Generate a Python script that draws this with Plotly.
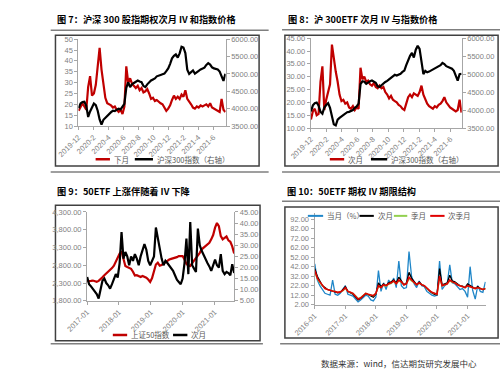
import pandas as pd
import plotly.graph_objects as go

W, H = 500, 381

# ---------------- Data ----------------
# Panel 1: 沪深300股指期权次月IV (left) & 沪深300指数 (right)
P1_START, P1_END = "2019-12-02", "2021-07-20"
P1_IV = [17, 19, 20.5, 19, 17.5, 28, 33, 24, 25, 29,
         38, 46, 36, 30, 23, 20.5, 20, 19.5, 18.5, 19,
         17.5, 16.5, 17.5, 15.5, 19, 37.5, 30, 32, 29.5, 28.5,
         27.5, 28.5, 26.5, 27.5, 25.5, 26, 27, 25, 22.5, 23,
         21.5, 22, 21, 20.5, 20, 18.5, 17, 18, 19.5, 22,
         24, 22.5, 23.5, 22.5, 24.5, 23.5, 26.5, 22.5, 21.5, 20,
         18.5, 18, 19, 18.5, 19.5, 19, 19.5, 20, 19, 20.5,
         18.5, 18, 17.5, 17, 16.5, 22.5, 17.5, 16.5]
P1_IDX = [4015, 4150, 4190, 4200, 4080, 3760, 3920, 4050, 4150, 4100,
          3940, 3690, 3540, 3680, 3740, 3790, 3860, 3900, 3940, 3930,
          3970, 4000, 3980, 4060, 4140, 4600, 4760, 4620, 4700, 4740,
          4770, 4810, 4780, 4760, 4650, 4620, 4700, 4770, 4810, 4840,
          4870, 4930, 4960, 4970, 4990, 5010, 5080, 5160, 5290, 5450,
          5520, 5560, 5470, 5590, 5780, 5760, 5600, 5120, 5000, 5060,
          5100, 5010, 5060, 5090, 5130, 5150, 5180, 5260, 5310, 5270,
          5190, 5160, 5150, 5130, 5070, 4900, 4800, 5000]
P12_TICKS = ["2019-12", "2020-2", "2020-4", "2020-6", "2020-8", "2020-10",
             "2020-12", "2021-2", "2021-4", "2021-6"]

# Panel 2: 沪300ETF次月IV (left) & 沪深300指数 (right)
P2_START, P2_END = "2019-12-02", "2021-07-15"
P2_IV = [13.3, 16.5, 17.5, 15, 15.5, 28, 34, 17, 21, 24,
         27, 42.5, 36, 32, 28, 23, 20.5, 21, 19.5, 20,
         18, 17.5, 18.5, 17, 18, 17.5, 33.5, 29, 30, 28,
         28.5, 27, 26.5, 27.5, 26, 25.5, 26.5, 25.5, 26, 24,
         23, 21.5, 22.5, 21, 20.5, 20, 19, 18.5, 17.5, 17,
         19.5, 22, 23, 22, 23.5, 23, 22.5, 24, 26.5, 23,
         21, 19.5, 18.5, 18, 17.5, 18.5, 18, 19, 19.5, 20.5,
         22, 20, 19, 18, 17.5, 17, 16.5, 17, 21, 16]
P2_IDX = [3960, 4130, 4190, 4210, 4120, 3950, 3900, 4070, 4140, 4190,
          4060, 3780, 3600, 3570, 3730, 3780, 3820, 3860, 3900, 3940,
          3950, 3980, 4000, 4060, 4100, 4180, 4720, 4800, 4790, 4730,
          4770, 4800, 4820, 4790, 4760, 4660, 4640, 4690, 4740, 4780,
          4810, 4850, 4910, 4950, 4980, 4960, 4980, 5010, 5060, 5100,
          5250, 5410, 5510, 5590, 5460, 5680, 5790, 5700, 5350, 5000,
          5090, 5050, 5070, 5100, 5120, 5150, 5180, 5220, 5250, 5310,
          5280, 5220, 5190, 5170, 5150, 5090, 4950, 4820, 5000, 5010]

# Panel 3: 上证50指数 (left) & 50ETF次月IV (right)
P3_START, P3_END = "2017-01-03", "2021-08-12"
P3_SZ50 = [2350, 2345, 2360, 2370, 2350, 2335, 2360, 2400, 2460, 2520,
           2570, 2610, 2650, 2720, 2790, 2900, 3000, 3130, 3190, 2960,
           2780, 2750, 2730, 2700, 2620, 2510, 2520, 2490, 2470, 2500,
           2480, 2450, 2400, 2330, 2440, 2620, 2820, 2870, 2790, 2810,
           2850, 2900, 2940, 2960, 2980, 2990, 3000, 3030, 3060, 3070,
           3060, 2960, 2840, 2790, 2780, 2860, 2930, 3010, 3080, 3150,
           3250, 3300, 3330, 3380, 3430, 3530, 3650, 3860, 3990, 3900,
           3620, 3530, 3560, 3610, 3500, 3460, 3330, 3130]
P3_IV = [15.7, 12.5, 11.5, 10.5, 9.5, 8, 6, 9.5, 14, 15,
         13, 12, 10.5, 12.5, 15, 17, 15.5, 22, 36, 24,
         27, 25, 21, 25, 23, 26, 24, 21, 25, 27.5,
         30.5, 28, 23, 21, 23, 25, 38, 33, 28, 24,
         21, 23, 22, 21, 19.5, 18.5, 16.5, 14.5, 13.5, 12.5,
         15, 22, 33, 17, 40.5, 21, 19.5, 18, 37.5, 30,
         27.5, 25.5, 23.5, 22, 20.5, 18.5, 21, 23.5, 21, 20,
         26, 18.5, 17, 18, 17.5, 16.5, 21.5, 17.5]
P3_TICKS = ["2017-01", "2018-01", "2019-01", "2020-01", "2021-01"]

# Panel 4: 50ETF期权IV期限结构 (monthly, 2016-01 .. 2021-08)
P4_START, P4_END = "2016-01-04", "2021-08-02"
P4_M0 = [45, 28, 22, 18, 14, 13, 12, 28, 13, 12, 14, 18,
         22, 13, 12, 11, 8, 5, 7, 10, 12, 11, 7, 6,
         10, 38, 16, 25, 18, 28, 24, 30, 20, 48, 22, 19,
         20, 58, 32, 24, 20, 27, 22, 21, 16, 14, 12, 11,
         12, 48, 18, 22, 24, 44, 25, 24, 21, 18, 19, 16,
         10, 42, 17, 8, 22, 16, 15, 26]
P4_M1 = [40, 32, 27, 22, 20, 18, 17, 16, 15.5, 14.5, 15, 17.5,
         21, 16, 14.5, 13, 10, 7, 8.5, 11.5, 13.5, 12.5, 11, 10,
         13, 25, 21, 24, 22, 25, 26, 28, 25, 31, 27, 23,
         25, 36, 30, 26, 23, 26, 23, 22, 19, 16.5, 14.5, 13,
         12.5, 40, 23, 24, 25, 33, 27, 26, 24, 22, 21.5, 20,
         24, 22, 20.5, 19, 21, 19, 18, 19]
P4_Q1 = [36, 29, 25, 21.5, 19, 18, 17, 16.5, 16, 15, 15.5, 16.5,
         19, 16, 15, 14, 11.5, 8.5, 9.5, 12, 14, 13, 12, 11.5,
         14, 21, 20, 22.5, 21.5, 23.5, 24.5, 26.5, 24, 27, 25.5, 23,
         24, 29, 27, 24.5, 23, 24.5, 23, 22, 19, 17, 15, 14,
         13, 30, 22, 22.5, 24, 27, 25.5, 25, 23, 22, 21, 20,
         21.5, 21, 20, 19, 20, 19, 18.5, 19]
P4_Q2 = [38, 30, 26, 22, 19, 18, 17, 16.5, 16, 15, 15.5, 17,
         20, 16, 15, 14, 11, 8, 9, 12, 14, 13, 12, 11.5,
         14, 22, 20, 23, 22, 24, 25, 27, 24, 28, 26, 23,
         24, 31, 28, 25, 23, 25, 23, 22, 19, 17, 15, 14,
         13, 32, 22, 23, 24, 28, 26, 25, 23, 22, 21, 20,
         22, 21, 20, 19, 20, 19, 18, 19]
P4_TICKS = ["2016-01", "2017-01", "2018-01", "2019-01", "2020-01", "2021-01"]

TITLES = ["图 7：沪深 300 股指期权次月 IV 和指数价格",
          "图 8：沪 300ETF 次月 IV 与指数价格",
          "图 9：50ETF 上涨伴随着 IV 下降",
          "图 10：50ETF 期权 IV 期限结构"]
SOURCE = "数据来源：wind，信达期货研究发展中心"

# ---------------- Helpers ----------------
def px_x(p):
    return p / W

def px_y(p):
    return 1 - p / H

def dates(start, end, n):
    return pd.date_range(start, end, periods=n)

def tick_dates(labels):
    out = []
    for s in labels:
        y, m = s.split("-")
        out.append(f"{y}-{int(m):02d}-01")
    return out

RED = "#C00000"
BLACK = "#000000"
NUMFONT = dict(family="Liberation Sans, Arial, sans-serif", size=7.5, color="#7F7F7F")
CJK = "Noto Sans CJK SC"

def base_axis(**kw):
    d = dict(showline=True, linecolor="#A6A6A6", linewidth=1, ticks="outside",
             ticklen=3, tickcolor="#A6A6A6", showgrid=False, zeroline=False,
             tickfont=NUMFONT, fixedrange=True)
    d.update(kw)
    return d

fig = go.Figure()

# Panel 1
d1a = dates(P1_START, P1_END, len(P1_IV))
d1b = dates(P1_START, P1_END, len(P1_IDX))
fig.add_trace(go.Scatter(x=d1a, y=P1_IV, name="下月", mode="lines",
                         line=dict(color=RED, width=2.2), xaxis="x", yaxis="y"))
fig.add_trace(go.Scatter(x=d1b, y=P1_IDX, name="沪深300指数（右轴）", mode="lines",
                         line=dict(color=BLACK, width=2.2), xaxis="x", yaxis="y2"))
# Panel 2
d2a = dates(P2_START, P2_END, len(P2_IV))
d2b = dates(P2_START, P2_END, len(P2_IDX))
fig.add_trace(go.Scatter(x=d2a, y=P2_IV, name="次月", mode="lines",
                         line=dict(color=RED, width=2.2), xaxis="x2", yaxis="y3"))
fig.add_trace(go.Scatter(x=d2b, y=P2_IDX, name="沪深300指数（右轴）", mode="lines",
                         line=dict(color=BLACK, width=2.2), xaxis="x2", yaxis="y4"))
# Panel 3
d3a = dates(P3_START, P3_END, len(P3_SZ50))
d3b = dates(P3_START, P3_END, len(P3_IV))
fig.add_trace(go.Scatter(x=d3a, y=P3_SZ50, name="上证50指数", mode="lines",
                         line=dict(color=RED, width=2.2), xaxis="x3", yaxis="y5"))
fig.add_trace(go.Scatter(x=d3b, y=P3_IV, name="次月", mode="lines",
                         line=dict(color=BLACK, width=2.2), xaxis="x3", yaxis="y6"))
# Panel 4
for vals, nm, col, wd in [(P4_M0, "当月（%）", "#1F86C8", 1.3),
                          (P4_M1, "次月", "#000000", 1.3),
                          (P4_Q1, "季月", "#92D050", 1.3),
                          (P4_Q2, "次季月", "#E00000", 1.6)]:
    fig.add_trace(go.Scatter(x=dates(P4_START, P4_END, len(vals)), y=vals, name=nm,
                             mode="lines", line=dict(color=col, width=wd),
                             xaxis="x4", yaxis="y7"))

fig.update_traces(showlegend=False)

layout = dict(
    width=W, height=H, margin=dict(l=0, r=0, t=0, b=0),
    paper_bgcolor="white", plot_bgcolor="white", showlegend=False,
    xaxis=base_axis(domain=[px_x(59), px_x(213)], anchor="y", type="date",
                    range=["2019-12-01", "2021-07-21"],
                    tickvals=tick_dates(P12_TICKS), ticktext=P12_TICKS, tickangle=-45),
    yaxis=base_axis(domain=[px_y(125), px_y(36)], anchor="x", range=[10, 50],
                    tick0=10, dtick=5, tickformat="d"),
    yaxis2=base_axis(overlaying="y", side="right", anchor="x", range=[3500, 6000],
                     tick0=3500, dtick=500, tickformat=".2f"),
    xaxis2=base_axis(domain=[px_x(302), px_x(460)], anchor="y3", type="date",
                     range=["2019-12-01", "2021-07-16"],
                     tickvals=tick_dates(P12_TICKS), ticktext=P12_TICKS, tickangle=-45),
    yaxis3=base_axis(domain=[px_y(127), px_y(35)], anchor="x2", range=[10, 45],
                     tick0=10, dtick=5, tickformat=".2f"),
    yaxis4=base_axis(overlaying="y3", side="right", anchor="x2", range=[3500, 6000],
                     tick0=3500, dtick=500, tickformat=".2f"),
    xaxis3=base_axis(domain=[px_x(68), px_x(222)], anchor="y5", type="date",
                     range=["2017-01-01", "2021-08-13"],
                     tickvals=tick_dates(P3_TICKS), ticktext=P3_TICKS, tickangle=-45),
    yaxis5=base_axis(domain=[px_y(304), px_y(213)], anchor="x3", range=[1800, 4300],
                     tick0=1800, dtick=500, tickformat=",.2f"),
    yaxis6=base_axis(overlaying="y5", side="right", anchor="x3", range=[5, 45],
                     tick0=5, dtick=5, tickformat=".2f"),
    xaxis4=base_axis(domain=[px_x(306), px_x(485)], anchor="y7", type="date",
                     range=["2016-01-01", "2021-08-05"],
                     tickvals=tick_dates(P4_TICKS), ticktext=P4_TICKS, tickangle=-45),
    yaxis7=base_axis(domain=[px_y(308), px_y(214)], anchor="x4", range=[2, 98.5],
                     tick0=2, dtick=10, tickformat=".2f"),
)
fig.update_layout(**layout)

shapes = []
def hline(x0, x1, y, color="#7F7F7F", w=1.5):
    shapes.append(dict(type="line", xref="paper", yref="paper",
                       x0=px_x(x0), x1=px_x(x1), y0=px_y(y), y1=px_y(y),
                       line=dict(color=color, width=w)))

def box(x0, y0, x1, y1):
    shapes.append(dict(type="rect", xref="paper", yref="paper",
                       x0=px_x(x0), x1=px_x(x1), y0=px_y(y1), y1=px_y(y0),
                       line=dict(color="#404040", width=1.5), fillcolor="rgba(0,0,0,0)",
                       layer="below"))

# separators
hline(30, 258, 27)
hline(272, 500, 26.5)
hline(30, 258, 172)
hline(272, 500, 172)
hline(272, 500, 202)
hline(30, 252, 348)
hline(270, 500, 348)
# boxes
box(35, 32, 248, 166)
box(275, 32, 498, 166)
box(35, 206, 249, 345)
box(275, 208, 498, 342)

annotations = []
def text(x, y, s, size=8, color="#595959", bold=False, family=CJK):
    annotations.append(dict(xref="paper", yref="paper", x=px_x(x), y=px_y(y),
                            xanchor="left", yanchor="middle", showarrow=False,
                            text=f"<b>{s}</b>" if bold else s,
                            font=dict(family=family, size=size, color=color)))

def legend_item(x0, x1, y, color, label, width=2.5, size=7.5):
    shapes.append(dict(type="line", xref="paper", yref="paper",
                       x0=px_x(x0), x1=px_x(x1), y0=px_y(y), y1=px_y(y),
                       line=dict(color=color, width=width)))
    text(x1 + 2, y, label, size=size)

# titles
text(35, 15, TITLES[0], size=9.2, color="#000000", bold=True)
text(276, 15, TITLES[1], size=9.2, color="#000000", bold=True)
text(34, 192, TITLES[2], size=9.2, color="#000000", bold=True)
text(275, 192, TITLES[3], size=9.2, color="#000000", bold=True)
# source
text(311, 368, SOURCE, size=8.5, color="#333333")

# legends (labels tied to trace names)
names = [t.name for t in fig.data]
legend_item(77, 92, 159, RED, names[0])
legend_item(118, 137, 159, BLACK, names[1])
legend_item(322, 337, 159, RED, names[2])
legend_item(365, 382, 159, BLACK, names[3])
legend_item(95, 110, 339, RED, names[4])
legend_item(158, 173, 339, BLACK, names[5])
legend_item(299, 315, 217, "#1F86C8", names[6], width=2)
legend_item(353, 368, 217, "#000000", names[7], width=2)
legend_item(389, 403, 217, "#92D050", names[8], width=2)
legend_item(427, 442, 217, "#E00000", names[9], width=2)

fig.update_layout(shapes=shapes, annotations=annotations)
fig.write_html("out.html")
